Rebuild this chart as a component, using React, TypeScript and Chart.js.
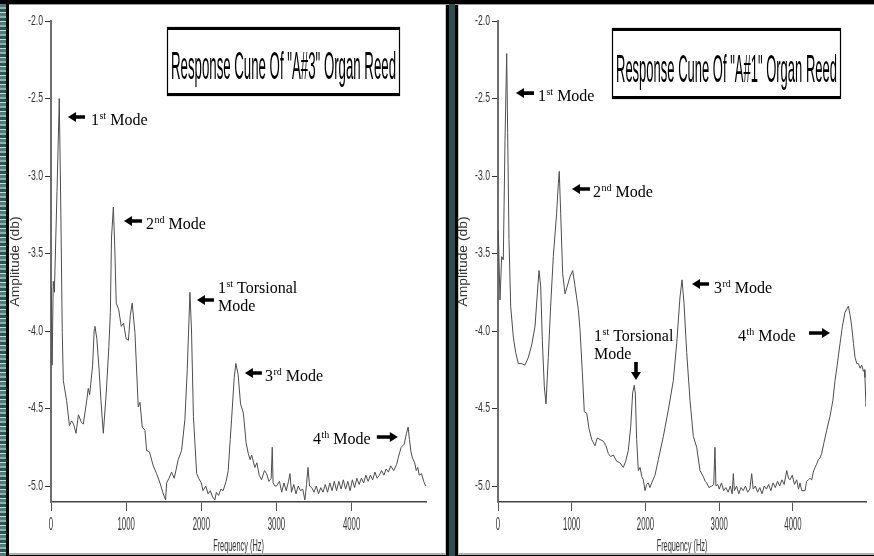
import React, { useEffect, useRef } from "react";
import { Chart, registerables } from "chart.js";

Chart.register(...registerables);

// ---------- axis / tick data ----------
const xTicks = [0, 1000, 2000, 3000, 4000];
const yTicks = [-2.0, -2.5, -3.0, -3.5, -4.0, -4.5, -5.0];
const X_MIN = 0;
const X_MAX = 4990;
const Y_MIN = -5.103;
const Y_MAX = -2.0;

const xTitle = "Frequency (Hz)";
const yTitle = "Amplitude (db)";
const a3Title = 'Response Cune Of "A#3" Organ Reed';
const a1Title = 'Response Cune Of "A#1" Organ Reed';

// ---------- series: A#3 reed ----------
const a3Freq = [
  5, 15, 30, 45, 80, 110, 130, 150, 164, 208, 245, 275, 300, 333, 365, 405, 430, 475, 496, 515,
  554, 575, 585, 610, 640, 665, 696, 735, 770, 790, 805, 830, 848, 868, 900, 935, 965, 1000, 1030, 1055,
  1080, 1117, 1161, 1184, 1214, 1250, 1272, 1310, 1361, 1405, 1450, 1494, 1525, 1539, 1570, 1605, 1640, 1693, 1738, 1782,
  1813, 1849, 1870, 1895, 1938, 1965, 2000, 2022, 2060, 2090, 2120, 2150, 2181, 2200, 2230, 2260, 2290, 2330, 2358, 2385,
  2403, 2438, 2460, 2490, 2522, 2560, 2596, 2625, 2650, 2670, 2713, 2740, 2770, 2802, 2840, 2868, 2900, 2930, 2944, 2955,
  2980, 3000, 3040, 3070, 3100, 3130, 3160, 3180, 3200, 3230, 3260, 3290, 3320, 3350, 3378, 3400, 3420, 3440, 3470, 3500,
  3530, 3560, 3590, 3620, 3650, 3680, 3710, 3740, 3770, 3800, 3830, 3860, 3890, 3920, 3950, 3980, 4010, 4040, 4070, 4100,
  4130, 4160, 4190, 4220, 4250, 4280, 4310, 4340, 4370, 4400, 4430, 4460, 4490, 4520, 4560, 4600, 4630, 4660, 4700, 4730,
  4752, 4770, 4790, 4810, 4840, 4860, 4880, 4900, 4930, 4960, 4985,
];
const a3Amp = [
  -3.72, -4.22, -3.68, -3.75, -3.1, -2.5, -3.2, -4.01, -4.32, -4.45, -4.61, -4.58, -4.6, -4.66, -4.54, -4.59, -4.6, -4.45, -4.37, -4.41,
  -4.22, -3.99, -3.97, -4.05, -4.25, -4.45, -4.66, -4.4, -4.1, -3.88, -3.4, -3.2, -3.45, -3.82, -3.86, -3.97, -3.95, -4.05, -4.06, -3.9,
  -3.82, -4.01, -4.49, -4.46, -4.62, -4.64, -4.77, -4.78, -4.87, -4.92, -4.98, -5.05, -5.09, -4.98, -4.95, -4.91, -4.95, -4.83, -4.77, -4.57,
  -4.25, -3.75, -4.0, -4.55, -4.92, -4.95, -4.98, -5.03, -5.0, -5.05, -5.03, -5.07, -5.09, -5.04, -5.06, -5.02, -5.03, -4.97, -4.9, -4.7,
  -4.57, -4.3, -4.21, -4.28, -4.47, -4.53, -4.72, -4.79, -4.83, -4.8, -4.88, -4.85, -4.93, -4.96, -4.9, -4.92, -4.97, -4.95, -4.75, -4.98,
  -5.0, -5.0, -4.97, -5.04, -4.98, -5.03, -4.97, -4.92, -5.04, -4.99, -5.05, -5.0, -5.03, -5.02, -5.09, -4.99, -4.88, -5.0, -5.01, -5.04,
  -5.0, -5.05, -5.01, -5.04, -4.99, -5.04, -4.98, -5.03, -4.97, -5.03, -4.97, -5.02, -4.96, -5.02, -4.97, -5.03, -4.96, -5.01, -4.95, -4.99,
  -4.95, -4.98, -4.93, -4.97, -4.93, -4.96, -4.91, -4.95, -4.93, -4.9, -4.93, -4.89, -4.91, -4.87, -4.9, -4.86, -4.8, -4.75, -4.73, -4.66,
  -4.62, -4.7, -4.78, -4.82, -4.85, -4.9, -4.88, -4.93, -4.92, -4.97, -5.0,
];

// ---------- series: A#1 reed ----------
const a1Freq = [
  4, 27, 50, 72, 95, 118, 131, 149, 172, 208, 240, 276, 321, 366, 411, 457, 502, 533, 556, 579,
  601, 628, 651, 682, 714, 750, 795, 818, 831, 850, 877, 909, 940, 976, 1013, 1044, 1089, 1112, 1144, 1170,
  1203, 1234, 1271, 1315, 1347, 1383, 1428, 1464, 1496, 1528, 1564, 1609, 1654, 1699, 1731, 1767, 1799, 1826, 1847, 1862,
  1880, 1903, 1926, 1950, 1971, 1993, 2015, 2038, 2060, 2084, 2129, 2174, 2242, 2309, 2377, 2423, 2468, 2495, 2522, 2559,
  2604, 2649, 2694, 2739, 2784, 2810, 2830, 2860, 2898, 2925, 2942, 2955, 2980, 3000, 3030, 3060, 3090, 3120, 3150, 3175,
  3191, 3205, 3235, 3265, 3295, 3325, 3355, 3385, 3415, 3440, 3460, 3490, 3520, 3550, 3580, 3610, 3640, 3670, 3700, 3730,
  3760, 3790, 3820, 3850, 3880, 3915, 3940, 3960, 3990, 4020, 4050, 4075, 4095, 4120, 4163, 4185, 4208, 4230, 4254, 4275,
  4299, 4320, 4344, 4365, 4389, 4420, 4457, 4502, 4540, 4570, 4605, 4638, 4670, 4705, 4751, 4775, 4796, 4820, 4841, 4865,
  4886, 4910, 4932, 4955, 4968, 4976, 4990,
];
const a1Amp = [
  -3.35, -3.8, -3.52, -3.54, -2.77, -2.21, -2.72, -3.41, -3.84, -4.04, -4.14, -4.21, -4.21, -4.22, -4.17, -4.09, -3.97, -3.76, -3.61, -3.71,
  -4.06, -4.36, -4.47, -4.17, -3.84, -3.52, -3.24, -3.05, -2.97, -3.24, -3.63, -3.76, -3.71, -3.65, -3.61, -3.71, -3.86, -3.99, -4.27, -4.52,
  -4.53, -4.63, -4.7, -4.74, -4.69, -4.7, -4.71, -4.74, -4.79, -4.81, -4.8, -4.84, -4.85, -4.88, -4.84, -4.77, -4.62, -4.4, -4.35, -4.4,
  -4.7, -4.9, -4.88, -4.94, -4.96, -5.03, -4.99, -4.98, -5.01, -4.98, -4.93, -4.83, -4.68, -4.51, -4.32, -4.08, -3.78, -3.67, -3.82, -4.14,
  -4.45, -4.68, -4.75, -4.9, -4.94, -4.97, -4.98, -5.01, -5.0, -4.99, -4.75, -5.0, -4.99, -5.02, -4.98, -5.03, -5.01, -5.04, -5.0, -5.05,
  -4.92, -5.03, -5.0, -5.05, -5.01, -5.03, -5.0, -5.04, -5.02, -4.92, -5.02, -5.0, -5.04, -5.01, -5.05, -5.0, -5.02, -4.99, -5.03, -4.98,
  -5.01, -4.97, -5.0, -4.96, -4.99, -4.9, -4.95, -4.96, -4.93, -4.99, -4.96, -5.02, -4.98, -5.03, -5.03, -4.97, -4.96, -4.95, -4.96, -4.91,
  -4.88, -4.86, -4.83, -4.82, -4.79, -4.72, -4.64, -4.55, -4.45, -4.32, -4.2, -4.08, -3.97, -3.88, -3.84, -3.9, -3.97, -4.08, -4.17, -4.21,
  -4.21, -4.24, -4.22, -4.26, -4.25, -4.3, -4.49,
];

// ---------- annotations (data coordinates) ----------
type Note = {
  base: string;
  sup: string;
  rest: string;
  line2?: string;
  tx: number;
  ty: number;
  ty2?: number;
  arrow: "left" | "right" | "down";
  ax: number;
  ay: number;
  len: number;
};

const a3Notes: Note[] = [
  { base: "1", sup: "st", rest: " Mode", tx: 532, ty: -2.671, arrow: "left", ax: 226, ay: -2.619, len: 17 },
  { base: "2", sup: "nd", rest: " Mode", tx: 1264, ty: -3.342, arrow: "left", ax: 971, ay: -3.29, len: 18 },
  { base: "1", sup: "st", rest: " Torsional", line2: "Mode", tx: 2221, ty: -3.755, ty2: -3.871, arrow: "left", ax: 1942, ay: -3.8, len: 17 },
  { base: "3", sup: "rd", rest: " Mode", tx: 2846, ty: -4.323, arrow: "left", ax: 2580, ay: -4.271, len: 17 },
  { base: "4", sup: "th", rest: " Mode", tx: 3485, ty: -4.729, arrow: "right", ax: 4615, ay: -4.684, len: 21 },
];
const a1Notes: Note[] = [
  { base: "1", sup: "st", rest: " Mode", tx: 542, ty: -2.516, arrow: "left", ax: 244, ay: -2.465, len: 18 },
  { base: "2", sup: "nd", rest: " Mode", tx: 1288, ty: -3.135, arrow: "left", ax: 1003, ay: -3.084, len: 18 },
  { base: "1", sup: "st", rest: " Torsional", line2: "Mode", tx: 1302, ty: -4.065, ty2: -4.181, arrow: "down", ax: 1871, ay: -4.316, len: 18 },
  { base: "3", sup: "rd", rest: " Mode", tx: 2929, ty: -3.755, arrow: "left", ax: 2631, ay: -3.697, len: 17 },
  { base: "4", sup: "th", rest: " Mode", tx: 3254, ty: -4.065, arrow: "right", ax: 4502, ay: -4.013, len: 21 },
];

// ---------- layout / style ----------
const SERIF = '"Liberation Serif", "Times New Roman", serif';
const SANS = '"Liberation Sans", Arial, sans-serif';
const CANVAS_H = 548;

type PanelCfg = {
  freq: number[];
  amp: number[];
  title: string;
  notes: Note[];
  left: number;
  width: number;
  padRight: number;
  yAxisW: number;
  box: { x: number; y: number; w: number; h: number };
};

const panels: PanelCfg[] = [
  { freq: a3Freq, amp: a3Amp, title: a3Title, notes: a3Notes, left: 10, width: 435, padRight: 19, yAxisW: 41, box: { x: 157, y: 22, w: 233, h: 69 } },
  { freq: a1Freq, amp: a1Amp, title: a1Title, notes: a1Notes, left: 458, width: 416, padRight: 8, yAxisW: 40, box: { x: 154, y: 23, w: 229, h: 71 } },
];

function drawScaled(
  ctx: CanvasRenderingContext2D,
  text: string,
  x: number,
  y: number,
  font: string,
  sx: number,
  align: CanvasTextAlign,
  baseline: CanvasTextBaseline = "alphabetic"
) {
  ctx.save();
  ctx.font = font;
  ctx.textAlign = align;
  ctx.textBaseline = baseline;
  ctx.translate(x, y);
  ctx.scale(sx, 1);
  ctx.fillText(text, 0, 0);
  ctx.restore();
}

function drawArrow(ctx: CanvasRenderingContext2D, x: number, y: number, dir: string, len: number) {
  const head = 8;
  const hw = 5;
  const sw = 1.8;
  ctx.save();
  ctx.fillStyle = "#000";
  ctx.beginPath();
  if (dir === "left") {
    ctx.moveTo(x, y);
    ctx.lineTo(x + head, y - hw);
    ctx.lineTo(x + head, y - sw);
    ctx.lineTo(x + len, y - sw);
    ctx.lineTo(x + len, y + sw);
    ctx.lineTo(x + head, y + sw);
    ctx.lineTo(x + head, y + hw);
  } else if (dir === "right") {
    ctx.moveTo(x, y);
    ctx.lineTo(x - head, y - hw);
    ctx.lineTo(x - head, y - sw);
    ctx.lineTo(x - len, y - sw);
    ctx.lineTo(x - len, y + sw);
    ctx.lineTo(x - head, y + sw);
    ctx.lineTo(x - head, y + hw);
  } else {
    ctx.moveTo(x, y);
    ctx.lineTo(x - hw, y - head);
    ctx.lineTo(x - sw, y - head);
    ctx.lineTo(x - sw, y - len);
    ctx.lineTo(x + sw, y - len);
    ctx.lineTo(x + sw, y - head);
    ctx.lineTo(x + hw, y - head);
  }
  ctx.closePath();
  ctx.fill();
  ctx.restore();
}

function makeDecor(cfg: PanelCfg) {
  return {
    id: "decor",
    afterDraw(chart: any) {
      const ctx: CanvasRenderingContext2D = chart.ctx;
      const xs = chart.scales.x;
      const ys = chart.scales.y;
      const area = chart.chartArea;

      // tick labels (condensed)
      ctx.fillStyle = "#333";
      xs.ticks.forEach((t: any, i: number) => {
        drawScaled(ctx, String(t.value), xs.getPixelForTick(i), xs.top + 23, `19px ${SANS}`, 0.41, "center", "middle");
      });
      ys.ticks.forEach((t: any, i: number) => {
        drawScaled(ctx, Number(t.value).toFixed(1), ys.right - 8, ys.getPixelForTick(i), `14px ${SANS}`, 0.62, "right", "middle");
      });

      // axis titles
      ctx.fillStyle = "#333";
      drawScaled(ctx, xTitle, (area.left + area.right) / 2, xs.top + 45, `16px ${SANS}`, 0.46, "center", "middle");
      ctx.save();
      ctx.translate(6, (area.top + area.bottom) / 2);
      ctx.rotate(-Math.PI / 2);
      ctx.font = `12px ${SANS}`;
      const tw = ctx.measureText(yTitle).width;
      drawScaled(ctx, yTitle, 0, 0, `12px ${SANS}`, 90 / tw, "center", "middle");
      ctx.restore();

      // title box
      const b = cfg.box;
      ctx.save();
      ctx.fillStyle = "#fff";
      ctx.fillRect(b.x, b.y, b.w, b.h);
      ctx.strokeStyle = "#000";
      ctx.lineWidth = 1.2;
      ctx.strokeRect(b.x + 0.5, b.y + 0.5, b.w - 1, b.h - 1);
      ctx.fillStyle = "#000";
      ctx.fillRect(b.x, b.y, b.w, 3);
      ctx.fillRect(b.x, b.y + b.h - 3, b.w, 3);
      const tf = `39px ${SANS}`;
      ctx.font = tf;
      const w = ctx.measureText(cfg.title).width;
      drawScaled(ctx, cfg.title, b.x + b.w / 2, b.y + b.h * 0.76, tf, (b.w - 8) / w, "center");
      ctx.restore();

      // annotations
      cfg.notes.forEach((n) => {
        const tx = xs.getPixelForValue(n.tx);
        const ty = ys.getPixelForValue(n.ty);
        ctx.save();
        ctx.fillStyle = "#000";
        ctx.textAlign = "left";
        ctx.textBaseline = "alphabetic";
        ctx.font = `16px ${SERIF}`;
        ctx.fillText(n.base, tx, ty);
        let x = tx + ctx.measureText(n.base).width;
        ctx.font = `10px ${SERIF}`;
        ctx.fillText(n.sup, x + 0.5, ty - 6);
        x += ctx.measureText(n.sup).width + 0.5;
        ctx.font = `16px ${SERIF}`;
        ctx.fillText(n.rest, x, ty);
        if (n.line2 && n.ty2 !== undefined) {
          ctx.fillText(n.line2, tx, ys.getPixelForValue(n.ty2));
        }
        ctx.restore();
        drawArrow(ctx, xs.getPixelForValue(n.ax), ys.getPixelForValue(n.ay), n.arrow, n.len);
      });
    },
  };
}

function Panel({ cfg }: { cfg: PanelCfg }) {
  const ref = useRef<HTMLCanvasElement>(null);
  useEffect(() => {
    const canvas = ref.current!;
    const chart = new Chart(canvas, {
      type: "line",
      data: {
        datasets: [
          {
            data: cfg.freq.map((f, i) => ({ x: f, y: cfg.amp[i] })),
            borderColor: "#4d4d4d",
            borderWidth: 1,
            pointRadius: 0,
            tension: 0,
            fill: false,
          },
        ],
      },
      options: {
        animation: false,
        responsive: false,
        maintainAspectRatio: false,
        events: [],
        layout: { padding: { top: 16, right: cfg.padRight, left: 0, bottom: 0 } },
        plugins: { legend: { display: false }, tooltip: { enabled: false }, title: { display: false } },
        scales: {
          x: {
            type: "linear",
            min: X_MIN,
            max: X_MAX,
            afterFit: (s: any) => {
              s.height = CANVAS_H - 497;
            },
            afterBuildTicks: (s: any) => {
              s.ticks = xTicks.map((v) => ({ value: v }));
            },
            grid: { display: true, drawOnChartArea: false, drawTicks: true, tickLength: 9, color: "#555", lineWidth: 1 },
            border: { display: true, color: "#444", width: 1.5 },
            ticks: { color: "rgba(0,0,0,0)", font: { size: 12 } },
          },
          y: {
            type: "linear",
            min: Y_MIN,
            max: Y_MAX,
            afterFit: (s: any) => {
              s.width = cfg.yAxisW;
            },
            afterBuildTicks: (s: any) => {
              s.ticks = yTicks.map((v) => ({ value: v }));
            },
            grid: { display: true, drawOnChartArea: false, drawTicks: true, tickLength: 6, color: "#333", lineWidth: 1 },
            border: { display: true, color: "#6e6e6e", width: 2 },
            ticks: { color: "rgba(0,0,0,0)", font: { size: 12 } },
          },
        },
      },
      plugins: [makeDecor(cfg)],
    } as any);
    return () => chart.destroy();
  }, []);
  return (
    <canvas
      ref={ref}
      width={cfg.width}
      height={CANVAS_H}
      style={{ position: "absolute", left: cfg.left, top: 5, width: cfg.width, height: CANVAS_H }}
    />
  );
}

export default function App() {
  return (
    <div style={{ position: "fixed", left: 0, top: 0, width: 874, height: 556, background: "#000", overflow: "hidden" }}>
      <div
        style={{
          position: "absolute",
          left: 0,
          top: 4,
          width: 6,
          height: 552,
          background:
            "repeating-linear-gradient(0deg, #4f7c7a 0px, #4f7c7a 3px, #c9dcda 3px, #c9dcda 4px, #2f5654 4px, #2f5654 7px, #8fb0ae 7px, #8fb0ae 9px)",
        }}
      />
      <div style={{ position: "absolute", left: 9, top: 4, width: 865, height: 1, background: "#9a9a9a" }} />
      <div style={{ position: "absolute", left: 9, top: 5, width: 436, height: 548, background: "#fff", borderRight: "1px solid #c8c8c8", borderBottom: "2px solid #b0b0b0" }} />
      <div style={{ position: "absolute", left: 449, top: 4, width: 6, height: 552, background: "#2e4f4f" }} />
      <div style={{ position: "absolute", left: 458, top: 5, width: 416, height: 548, background: "#fff", borderLeft: "1px solid #c8c8c8", borderBottom: "2px solid #b0b0b0" }} />
      {panels.map((p, i) => (
        <Panel key={i} cfg={p} />
      ))}
    </div>
  );
}
